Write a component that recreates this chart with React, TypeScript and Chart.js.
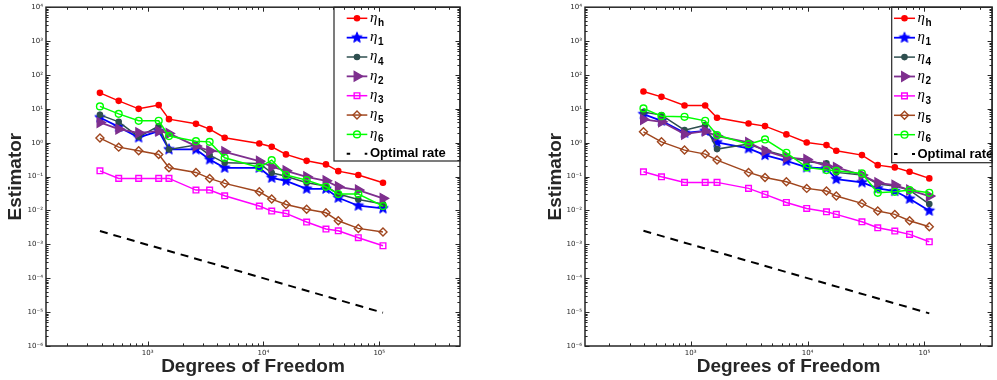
import React, { useEffect, useRef } from 'react';
import { Chart, registerables } from 'chart.js';
import { drawPoint } from 'chart.js/helpers';

Chart.register(...registerables);

// ---------------- data (left panel) ----------------
const dofA = [387, 562, 836, 1245, 1527, 2612, 3428, 4623, 9204, 11780, 15640, 23590, 34650, 44260, 65930, 107700];
const etaHA = [29.6, 17.2, 10.0, 12.9, 4.97, 3.61, 2.52, 1.40, 0.953, 0.757, 0.452, 0.292, 0.229, 0.145, 0.111, 0.0656];
const eta1A = [5.57, 2.94, 1.43, 2.20, 0.634, 0.634, 0.321, 0.182, 0.182, 0.0922, 0.0752, 0.0437, 0.0437, 0.0237, 0.0138, 0.0115];
const eta4A = [6.65, 4.14, 1.49, 3.09, 0.634, 0.849, 0.431, 0.255, 0.245, 0.129, 0.103, 0.0656, 0.0525, 0.0305, 0.0212, 0.0155];
const eta2A = [3.97, 2.52, 1.96, 2.20, 1.88, 0.794, 0.577, 0.539, 0.286, 0.195, 0.148, 0.0986, 0.0752, 0.050, 0.040, 0.0228];
const eta3A = [0.148, 0.0885, 0.0885, 0.0885, 0.0885, 0.040, 0.040, 0.0272, 0.0135, 0.0096, 0.0082, 0.00455, 0.00283, 0.00252, 0.00157, 0.00091];
const eta5A = [1.37, 0.741, 0.577, 0.452, 0.182, 0.133, 0.0885, 0.063, 0.0356, 0.0217, 0.0151, 0.0108, 0.00855, 0.00497, 0.00296, 0.00231];
const eta6A = [11.8, 7.12, 4.43, 4.43, 1.57, 1.11, 1.06, 0.359, 0.187, 0.307, 0.111, 0.0788, 0.050, 0.0305, 0.0305, 0.0135];
const optDofA = [387, 107700];
const optA = [0.00247, 0.0000096];

// ---------------- data (right panel) ----------------
const dofB = [394, 562, 885, 1330, 1680, 3126, 4325, 6590, 9840, 14520, 17630, 29220, 39900, 55850, 74700, 110200];
const etaHB = [32.6, 22.6, 12.6, 12.6, 5.43, 3.71, 3.09, 1.76, 1.02, 0.85, 0.577, 0.431, 0.218, 0.187, 0.139, 0.0885];
const eta1B = [6.98, 4.43, 1.96, 2.24, 1.02, 0.679, 0.431, 0.292, 0.187, 0.175, 0.0844, 0.0675, 0.0449, 0.0374, 0.0221, 0.0098];
const eta4B = [8.0, 6.52, 2.35, 3.30, 0.648, 0.909, 0.605, 0.402, 0.273, 0.245, 0.133, 0.111, 0.060, 0.0525, 0.040, 0.0155];
const eta2B = [4.87, 4.14, 1.79, 2.20, 1.57, 1.02, 0.577, 0.368, 0.321, 0.204, 0.187, 0.111, 0.0656, 0.0561, 0.040, 0.0266];
const eta3B = [0.139, 0.0986, 0.0675, 0.0675, 0.0675, 0.0449, 0.0299, 0.0173, 0.0115, 0.00916, 0.00767, 0.00464, 0.00309, 0.00247, 0.00197, 0.00119];
const eta5B = [2.10, 1.06, 0.605, 0.461, 0.307, 0.133, 0.0947, 0.0703, 0.0449, 0.0374, 0.0266, 0.0162, 0.0096, 0.00767, 0.00497, 0.0033];
const eta6B = [10.3, 6.09, 5.82, 4.43, 1.68, 0.909, 1.25, 0.504, 0.187, 0.156, 0.148, 0.124, 0.0333, 0.0356, 0.040, 0.0333];
const optDofB = [394, 110200];
const optB = [0.00252, 0.0000092];

// legend labels (subscripts of eta) and axis text
const subscripts = ['h', '1', '4', '2', '3', '5', '6'];
const optimalLabel = 'Optimal rate';
const xTitle = 'Degrees of Freedom';
const yTitle = 'Estimator';
const yMin = 1e-6;
const yMax = 1e4;

// ---------------- styles ----------------
const INK = '#262626';

function makeStar(color: string, R: number) {
  const c = document.createElement('canvas');
  const s = Math.ceil(R * 2 + 3);
  c.width = s;
  c.height = s;
  const g = c.getContext('2d')!;
  g.beginPath();
  for (let i = 0; i < 10; i++) {
    const r = i % 2 === 0 ? R : R * 0.45;
    const a = -Math.PI / 2 + (i * Math.PI) / 5;
    g.lineTo(s / 2 + r * Math.cos(a), s / 2 + r * Math.sin(a));
  }
  g.closePath();
  g.fillStyle = color;
  g.fill();
  g.strokeStyle = color;
  g.lineWidth = 1;
  g.stroke();
  return c;
}

type SeriesStyle = {
  color: string;
  pointStyle: any;
  radius: number;
  filled: boolean;
  rotation?: number;
  lineWidth: number;
};

const seriesStyles: SeriesStyle[] = [
  { color: '#FF0000', pointStyle: 'circle', radius: 2.6, filled: true, lineWidth: 1.5 },
  { color: '#0000FF', pointStyle: 'STAR', radius: 5.5, filled: true, lineWidth: 1.8 },
  { color: '#2F4F4F', pointStyle: 'circle', radius: 2.6, filled: true, lineWidth: 1.5 },
  { color: '#7E2F8E', pointStyle: 'triangle', radius: 5.5, filled: true, rotation: 90, lineWidth: 1.8 },
  { color: '#FF00FF', pointStyle: 'rect', radius: 4, filled: false, lineWidth: 1.5 },
  { color: '#A0461E', pointStyle: 'rectRot', radius: 4, filled: false, lineWidth: 1.5 },
  { color: '#00FF00', pointStyle: 'circle', radius: 3.4, filled: false, lineWidth: 1.5 },
];

const SUP: Record<string, string> = {
  '-': '\u207B', '0': '\u2070', '1': '\u00B9', '2': '\u00B2', '3': '\u00B3',
  '4': '\u2074', '5': '\u2075', '6': '\u2076', '7': '\u2077', '8': '\u2078', '9': '\u2079',
};

function decadeExp(v: number): number | null {
  const e = Math.round(Math.log10(v));
  return Math.abs(v / Math.pow(10, e) - 1) < 1e-6 ? e : null;
}

function tickLabel(v: number) {
  const e = decadeExp(v);
  if (e === null) return '';
  return '10' + String(e).split('').map((ch) => SUP[ch]).join('');
}

function logTicks(min: number, max: number) {
  const out: { value: number; major: boolean }[] = [];
  const lo = Math.floor(Math.log10(min));
  const hi = Math.ceil(Math.log10(max));
  for (let e = lo; e <= hi; e++) {
    for (let m = 1; m <= 9; m++) {
      const v = m * Math.pow(10, e);
      if (v >= min * 0.9999 && v <= max * 1.0001) out.push({ value: v, major: m === 1 });
    }
  }
  return out;
}

const axesPlugin = {
  id: 'axesDecor',
  afterDatasetsDraw(chart: any, _args: any, opts: any) {
    const { ctx, chartArea: ca } = chart;
    const xs = chart.scales.x;
    const ys = chart.scales.y;
    ctx.save();
    // ---- legend ----
    const L = opts;
    ctx.fillStyle = '#ffffff';
    const bRight = L.boxRight ?? ca.right;
    ctx.fillRect(L.boxLeft, ca.top, bRight - L.boxLeft, L.boxBottom - ca.top);
    ctx.strokeStyle = INK;
    ctx.lineWidth = 1.2;
    ctx.strokeRect(L.boxLeft, ca.top, bRight - L.boxLeft, L.boxBottom - ca.top);
    chart.data.datasets.forEach((ds: any, i: number) => {
      const y = L.y0 + i * L.dy;
      ctx.save();
      ctx.beginPath();
      ctx.setLineDash(ds.legendDash || []);
      ctx.lineWidth = ds.borderWidth;
      ctx.strokeStyle = ds.borderColor;
      ctx.moveTo(L.lineX0, y);
      ctx.lineTo(L.lineX1, y);
      ctx.stroke();
      ctx.setLineDash([]);
      if (ds.pointRadius > 0) {
        ctx.fillStyle = ds.pointBackgroundColor;
        ctx.strokeStyle = ds.pointBorderColor;
        ctx.lineWidth = ds.pointBorderWidth;
        drawPoint(ctx, {
          pointStyle: ds.pointStyle,
          rotation: ds.pointRotation || 0,
          radius: ds.pointRadius,
          borderWidth: ds.pointBorderWidth,
        } as any, (L.lineX0 + L.lineX1) / 2, y);
      }
      ctx.restore();
      ctx.fillStyle = '#000';
      ctx.textBaseline = 'middle';
      ctx.textAlign = 'left';
      if (ds.isOptimal) {
        ctx.font = 'bold 13px "Liberation Sans", Arial, sans-serif';
        ctx.fillText(ds.label, L.textX, y);
      } else {
        ctx.font = 'italic 15px "Liberation Serif", "DejaVu Serif", serif';
        ctx.fillText('\u03B7', L.textX, y - 0.5);
        const w = ctx.measureText('\u03B7').width;
        ctx.font = 'bold 10px "Liberation Sans", Arial, sans-serif';
        ctx.fillText(ds.sub, L.textX + w + 0.5, y + 5);
      }
    });
    // ---- ticks (inward, all four sides) and box ----
    ctx.strokeStyle = INK;
    ctx.lineWidth = 1;
    ctx.beginPath();
    for (const t of xs.ticks) {
      const px = Math.round(xs.getPixelForValue(t.value)) + 0.5;
      const len = decadeExp(t.value) !== null ? 4.5 : 2.6;
      ctx.moveTo(px, ca.bottom);
      ctx.lineTo(px, ca.bottom - len);
      ctx.moveTo(px, ca.top);
      ctx.lineTo(px, ca.top + len);
    }
    for (const t of ys.ticks) {
      const py = Math.round(ys.getPixelForValue(t.value)) + 0.5;
      const len = decadeExp(t.value) !== null ? 4.5 : 2.6;
      ctx.moveTo(ca.left, py);
      ctx.lineTo(ca.left + len, py);
      ctx.moveTo(ca.right, py);
      ctx.lineTo(ca.right - len, py);
    }
    ctx.stroke();
    ctx.lineWidth = 1.5;
    ctx.strokeRect(ca.left, ca.top, ca.right - ca.left, ca.bottom - ca.top);
    ctx.restore();
  },
};

type PanelCfg = {
  left: number;
  width: number;
  padLeft: number;
  padRight: number;
  yAxisWidth: number;
  xMin: number;
  xMax: number;
  dof: number[];
  series: number[][];
  optDof: number[];
  opt: number[];
  legend: any;
};

function Panel({ cfg }: { cfg: PanelCfg }) {
  const ref = useRef<HTMLCanvasElement>(null);
  useEffect(() => {
    const n = cfg.series.length;
    const datasets: any[] = cfg.series.map((vals, i) => {
      const st = seriesStyles[i];
      const ps = st.pointStyle === 'STAR' ? makeStar(st.color, st.radius) : st.pointStyle;
      return {
        label: '\u03B7' + subscripts[i],
        sub: subscripts[i],
        data: cfg.dof.map((x, k) => ({ x, y: vals[k] })),
        borderColor: st.color,
        backgroundColor: st.color,
        borderWidth: st.lineWidth,
        pointStyle: ps,
        pointRotation: st.rotation || 0,
        pointRadius: st.radius,
        pointBorderWidth: 1.4,
        pointBorderColor: st.color,
        pointBackgroundColor: st.filled ? st.color : 'rgba(0,0,0,0)',
        tension: 0,
        order: n + 1 - i,
      };
    });
    datasets.push({
      label: optimalLabel,
      isOptimal: true,
      data: cfg.optDof.map((x, k) => ({ x, y: cfg.opt[k] })),
      borderColor: '#000000',
      backgroundColor: '#000000',
      borderWidth: 2,
      borderDash: [8, 6],
      legendDash: [3.5, 14.5],
      pointRadius: 0,
      tension: 0,
      order: 0,
    });

    const chart = new Chart(ref.current!, {
      type: 'line',
      data: { datasets },
      plugins: [axesPlugin],
      options: {
        animation: false,
        responsive: false,
        maintainAspectRatio: false,
        devicePixelRatio: 1,
        layout: { padding: { left: cfg.padLeft, right: cfg.padRight, top: 7, bottom: 0 } },
        plugins: {
          legend: { display: false },
          tooltip: { enabled: false },
          axesDecor: cfg.legend,
        } as any,
        scales: {
          x: {
            type: 'logarithmic',
            min: cfg.xMin,
            max: cfg.xMax,
            grid: { display: false, drawTicks: false },
            border: { display: false },
            afterBuildTicks: (s: any) => { s.ticks = logTicks(cfg.xMin, cfg.xMax); },
            afterFit: (s: any) => { s.height = 34; },
            ticks: {
              autoSkip: false,
              maxRotation: 0,
              minRotation: 0,
              padding: 3,
              color: INK,
              font: { size: 7, family: '"DejaVu Sans", "Liberation Sans", sans-serif' },
              callback: (v: any) => tickLabel(Number(v)),
            },
            title: {
              display: true,
              text: xTitle,
              color: INK,
              font: { size: 19, weight: 'bold', family: '"Liberation Sans", Arial, sans-serif' },
              padding: { top: 0, bottom: 2 },
            },
          },
          y: {
            type: 'logarithmic',
            min: yMin,
            max: yMax,
            grid: { display: false, drawTicks: false },
            border: { display: false },
            afterBuildTicks: (s: any) => { s.ticks = logTicks(yMin, yMax); },
            afterFit: (s: any) => { s.width = cfg.yAxisWidth; },
            ticks: {
              autoSkip: false,
              padding: 3,
              color: INK,
              font: { size: 7, family: '"DejaVu Sans", "Liberation Sans", sans-serif' },
              callback: (v: any) => tickLabel(Number(v)),
            },
            title: {
              display: true,
              text: yTitle,
              color: INK,
              font: { size: 19, weight: 'bold', family: '"Liberation Sans", Arial, sans-serif' },
              padding: { top: 4, bottom: 0 },
            },
          },
        },
      } as any,
    });
    return () => chart.destroy();
  }, []);
  return (
    <canvas
      ref={ref}
      width={cfg.width}
      height={380}
      style={{ position: 'absolute', left: cfg.left, top: 0, width: cfg.width, height: 380 }}
    />
  );
}

const leftCfg: PanelCfg = {
  left: 0,
  width: 493,
  padLeft: 0,
  padRight: 33,
  yAxisWidth: 46,
  xMin: 132.4,
  xMax: 498000,
  dof: dofA,
  series: [etaHA, eta1A, eta4A, eta2A, eta3A, eta5A, eta6A],
  optDof: optDofA,
  opt: optA,
  legend: { boxLeft: 334, boxBottom: 161, lineX0: 346.7, lineX1: 367.3, textX: 370, y0: 18.3, dy: 19.35 },
};

const rightCfg: PanelCfg = {
  left: 493,
  width: 506,
  padLeft: 47,
  padRight: 1,
  yAxisWidth: 45,
  xMin: 124.5,
  xMax: 380000,
  dof: dofB,
  series: [etaHB, eta1B, eta4B, eta2B, eta3B, eta5B, eta6B],
  optDof: optDofB,
  opt: optB,
  legend: { boxLeft: 398.7, boxBottom: 162.7, lineX0: 401, lineX1: 422, textX: 424.5, y0: 18.3, dy: 19.4 },
};

export default function App() {
  return (
    <div
      style={{
        position: 'absolute',
        left: 0,
        top: 0,
        width: 997,
        height: 380,
        overflow: 'hidden',
        background: '#ffffff',
      }}
    >
      <Panel cfg={leftCfg} />
      <Panel cfg={rightCfg} />
    </div>
  );
}
